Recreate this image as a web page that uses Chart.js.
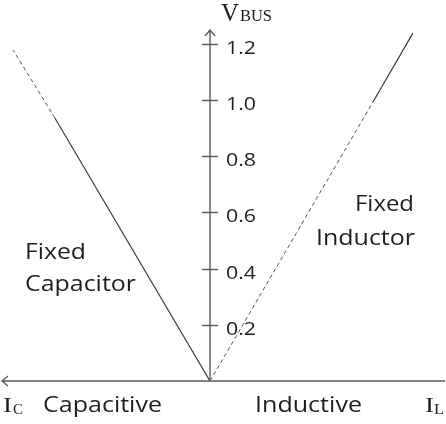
<!DOCTYPE html>
<html>
<head>
<meta charset="utf-8">
<script src="https://cdn.jsdelivr.net/npm/chart.js@4/dist/chart.umd.min.js"></script>
<style>
  html, body { margin: 0; padding: 0; background: #fff; }
  #wrap { width: 446px; height: 424px; }
</style>
</head>
<body>
<div id="wrap"><canvas id="vChart" width="446" height="424"></canvas></div>
<script>
// V-I characteristic: current on x (negative = capacitive), bus voltage on y
const yTicks = [0.2, 0.4, 0.6, 0.8, 1.0, 1.2];
const capSolid = [{x: 0, y: 0}, {x: -0.552, y: 0.936}];
const capDashed = [{x: -0.552, y: 0.936}, {x: -0.701, y: 1.178}];
const indDashed = [{x: 0, y: 0}, {x: 0.580, y: 0.993}];
const indSolid = [{x: 0.580, y: 0.993}, {x: 0.722, y: 1.238}];

const axisColor = '#5a5a5a';
const textColor = '#1e1e1e';
const sansFont = '"Open Sans", "Noto Sans", sans-serif';
const serifFont = '"Liberation Serif", "DejaVu Serif", serif';

// text stretched/squeezed horizontally to a given width (left edge at x)
function fitText(ctx, txt, x, y, w) {
    const m = ctx.measureText(txt).width;
    ctx.save();
    ctx.translate(x, y);
    ctx.scale(w / m, 1);
    ctx.textAlign = 'left';
    ctx.fillText(txt, 0, 0);
    ctx.restore();
}

// draws the crossing axes, arrows, ticks and all the labels
const axesPlugin = {
    id: 'axesPlugin',
    afterDraw(chart) {
        const ctx = chart.ctx;
        const xs = chart.scales.x;
        const ys = chart.scales.y;
        const x0 = xs.getPixelForValue(0);
        const y0 = ys.getPixelForValue(0);
        const top = chart.chartArea.top;

        ctx.save();
        ctx.strokeStyle = axisColor;
        ctx.lineWidth = 1.4;

        // vertical axis + arrow
        ctx.beginPath();
        ctx.moveTo(x0, y0);
        ctx.lineTo(x0, top);
        ctx.moveTo(x0 - 5, top + 6);
        ctx.lineTo(x0, top);
        ctx.lineTo(x0 + 5, top + 6);
        // horizontal axis + arrows
        ctx.moveTo(2, y0);
        ctx.lineTo(chart.width - 1, y0);
        ctx.moveTo(8, y0 - 5);
        ctx.lineTo(2, y0);
        ctx.lineTo(8, y0 + 5);
        ctx.stroke();

        // ticks crossing the vertical axis
        ctx.fillStyle = textColor;
        ctx.font = '19px ' + sansFont;
        ctx.textBaseline = 'middle';
        yTicks.forEach(v => {
            const py = Math.round(ys.getPixelForValue(v)) + 0.5;
            ctx.beginPath();
            ctx.moveTo(x0 - 8, py);
            ctx.lineTo(x0 + 8, py);
            ctx.stroke();
            fitText(ctx, v.toFixed(1), x0 + 16, py + 4, 30);
        });

        ctx.textBaseline = 'alphabetic';
        // V_BUS
        ctx.font = '25px ' + serifFont;
        fitText(ctx, 'V', 221, 21, 18);
        ctx.font = '16px ' + serifFont;
        fitText(ctx, 'BUS', 240, 21, 32);

        // I_C and I_L
        ctx.font = '22px ' + serifFont;
        fitText(ctx, 'I', 3, 412, 9);
        fitText(ctx, 'I', 425, 412, 9);
        ctx.font = '15px ' + serifFont;
        fitText(ctx, 'C', 13, 414, 10);
        fitText(ctx, 'L', 434, 414, 10);

        ctx.font = '22px ' + sansFont;
        fitText(ctx, 'Capacitive', 43, 412, 119);
        fitText(ctx, 'Inductive', 255, 412, 107);
        fitText(ctx, 'Fixed', 25, 259, 61);
        fitText(ctx, 'Capacitor', 25, 291, 111);
        fitText(ctx, 'Fixed', 355, 211, 59);
        fitText(ctx, 'Inductor', 316, 245, 99);
        ctx.restore();
    }
};

const lineSet = (data, dashed) => ({
    data: data,
    showLine: true,
    borderColor: dashed ? '#555' : '#3a3a3a',
    borderWidth: dashed ? 1 : 1.2,
    borderDash: dashed ? [4, 3] : [],
    pointRadius: 0,
    fill: false,
    tension: 0
});

const ctx = document.getElementById('vChart').getContext('2d');
new Chart(ctx, {
    type: 'scatter',
    data: {
        datasets: [
            lineSet(capSolid, false),
            lineSet(capDashed, true),
            lineSet(indDashed, true),
            lineSet(indSolid, false)
        ]
    },
    options: {
        responsive: false,
        animation: false,
        layout: { padding: { top: 30, bottom: 43, left: 0, right: 0 } },
        plugins: { legend: { display: false }, tooltip: { enabled: false } },
        scales: {
            x: { type: 'linear', min: -210 / 281, max: 236 / 281, display: false },
            y: { type: 'linear', min: 0, max: 351 / 281, display: false }
        }
    },
    plugins: [axesPlugin]
});
</script>
</body>
</html>
